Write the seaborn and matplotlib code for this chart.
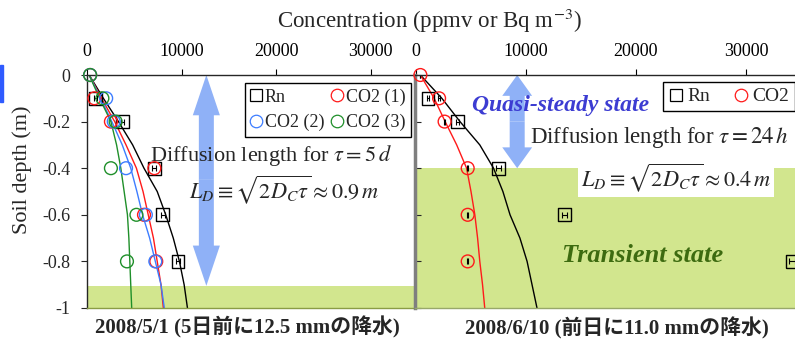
import matplotlib
matplotlib.use("Agg")
import matplotlib.pyplot as plt
import seaborn as sns
from matplotlib.lines import Line2D
from matplotlib.patches import FancyArrowPatch, Rectangle

# ---- values ----
fit_depth = [0, -0.1, -0.2, -0.3, -0.4, -0.5, -0.6, -0.7, -0.8, -0.9, -1.0]
pt_depth = [0, -0.1, -0.2, -0.4, -0.6, -0.8]
rn_depth = [-0.1, -0.2, -0.4, -0.6, -0.8]

# 2008/5/1
may_rn = [900, 3700, 7100, 8000, 9600]
may_rn_err = [150, 150, 200, 250, 200]
may_co2_1 = [300, 750, 2500, 7100, 6000, 7300]
may_co2_2 = [300, 2000, 2800, 4100, 6200, 7200]
may_co2_3 = [300, 1600, 3000, 2500, 5200, 4200]
may_rn_fit = [200, 1700, 3300, 4800, 6000, 7400, 8300, 9100, 9750, 10250, 10600]
may_co2_1_fit = [200, 1500, 2900, 4100, 5200, 5900, 6450, 7000, 7400, 7800, 8050]
may_co2_2_fit = [200, 1400, 2600, 3700, 4600, 5250, 5850, 6600, 7200, 7800, 8150]
may_co2_3_fit = [200, 1300, 2500, 3100, 3550, 3900, 4250, 4400, 4500, 4600, 4700]

# 2008/6/10
jun_rn = [1100, 3800, 7500, 13500, 34200]
jun_rn_err = [100, 150, 250, 250, 250]
jun_co2 = [400, 2100, 2600, 4700, 4700, 4700]
jun_co2_err = [0, 60, 60, 40, 40, 40]
jun_rn_fit = [400, 2350, 4000, 5800, 7050, 7900, 8550, 9450, 10100, 10550, 11000]
jun_co2_fit = [400, 1650, 2650, 3700, 4600, 5000, 5350, 5600, 5800, 6050, 6250]

x_ticks = [0, 10000, 20000, 30000]
y_ticks = [0, -0.2, -0.4, -0.6, -0.8, -1.0]
y_ticklabels = ["0", "-0.2", "-0.4", "-0.6", "-0.8", "-1"]

RED, BLUE, GREEN = "#ff1a1a", "#3d7dff", "#1f8f2a"
BAND = "#d2e68e"
ARROW = "#8fb1f7"

sns.set_theme(style="white")
plt.rcParams["font.family"] = ["Liberation Serif", "DejaVu Serif"]
plt.rcParams["mathtext.fontset"] = "stix"
plt.rcParams["axes.linewidth"] = 1.0

fig = plt.figure(figsize=(7.95, 3.4), dpi=100)
ax1 = fig.add_axes([87 / 795, 32 / 340, 329 / 795, 233 / 340])
ax2 = fig.add_axes([415 / 795, 32 / 340, 380 / 795, 233 / 340])


def style_axes(ax, xmin, xmax, show_ylabels):
    ax.set_xlim(xmin, xmax)
    ax.set_ylim(-1, 0)
    ax.xaxis.tick_top()
    ax.set_xticks(x_ticks)
    ax.set_xticklabels([str(t) for t in x_ticks], fontsize=13)
    ax.set_yticks(y_ticks)
    ax.tick_params(axis="x", direction="out", length=4, width=0.8, pad=7,
                   top=True, bottom=False, colors="black")
    if show_ylabels:
        ax.set_yticklabels(y_ticklabels, fontsize=13)
        ax.tick_params(axis="y", direction="out", length=4, width=0.8, pad=8,
                       left=True)
    else:
        ax.set_yticklabels([])
        ax.tick_params(axis="y", direction="in", length=4, width=0.8, left=True)
    ax.set_xlabel("")
    ax.set_ylabel("")
    ax.spines["right"].set_visible(False)


# ---------------- left panel: 2008/5/1 ----------------
ax1.axhspan(-1, -0.905, color=BAND, lw=0, zorder=0)
for vals, col in [(may_rn_fit, "black"), (may_co2_1_fit, RED),
                  (may_co2_2_fit, BLUE), (may_co2_3_fit, GREEN)]:
    sns.lineplot(x=vals, y=fit_depth, sort=False, estimator=None, color=col,
                 lw=1, ax=ax1)

ax1.errorbar(may_rn, rn_depth, xerr=may_rn_err, fmt="none", ecolor="black",
             elinewidth=0.8, capsize=2.5, capthick=0.8)
sns.scatterplot(x=may_rn, y=rn_depth, marker="s", s=85, facecolor="none",
                edgecolor="black", linewidth=1, ax=ax1, clip_on=False, zorder=4)
for vals, col in [(may_co2_1, RED), (may_co2_2, BLUE), (may_co2_3, GREEN)]:
    sns.scatterplot(x=vals, y=pt_depth, marker="o", s=85, facecolor="none",
                    edgecolor=col, linewidth=1, ax=ax1, clip_on=False, zorder=4)

style_axes(ax1, -30, 34785, True)
ax1.spines["bottom"].set_color("#8a9c45")

# double arrow (diffusion length)
for end in (0.0, -0.905):
    ax1.add_patch(FancyArrowPatch((12600, -0.45), (12600, end),
                                  arrowstyle="simple,head_length=29,head_width=19.5,tail_width=10.8",
                                  mutation_scale=1, lw=0, color=ARROW,
                                  shrinkA=0, shrinkB=0, zorder=2))

ax1.text(6600, -0.345, r"Diffusion length for $\tau = 5\,d$", fontsize=16,
         va="center", ha="left", zorder=5)
ax1.text(10800, -0.49, r"$L_D \equiv \sqrt{2D_C\tau} \approx 0.9\,m$",
         fontsize=16, va="center", ha="left", zorder=5)

h1 = [Line2D([], [], marker="s", ls="none", mfc="none", mec="black", ms=9, mew=0.9),
      Line2D([], [], marker="o", ls="none", mfc="none", mec=BLUE, ms=9, mew=0.9),
      Line2D([], [], marker="o", ls="none", mfc="none", mec=RED, ms=9, mew=0.9),
      Line2D([], [], marker="o", ls="none", mfc="none", mec=GREEN, ms=9, mew=0.9)]
leg1 = ax1.legend(h1, ["Rn", "CO2 (2)", "CO2 (1)", "CO2 (3)"], ncol=2,
                  loc="upper right", bbox_to_anchor=(0.985, 0.966),
                  fontsize=13, frameon=True, fancybox=False, framealpha=1,
                  edgecolor="black", handlelength=0.6, handletextpad=0.2,
                  columnspacing=0.4, labelspacing=0.45, borderpad=0.3,
                  borderaxespad=0)
leg1.get_frame().set_linewidth(1.0)
leg1.set_zorder(6)

# ---------------- right panel: 2008/6/10 ----------------
ax2.axhspan(-1, -0.4, color=BAND, lw=0, zorder=0)
for vals, col in [(jun_rn_fit, "black"), (jun_co2_fit, RED)]:
    sns.lineplot(x=vals, y=fit_depth, sort=False, estimator=None, color=col,
                 lw=1, ax=ax2)
ax2.errorbar(jun_rn, rn_depth, xerr=jun_rn_err, fmt="none", ecolor="black",
             elinewidth=0.8, capsize=2.5, capthick=0.8)
ax2.errorbar(jun_co2, pt_depth, xerr=jun_co2_err, fmt="none", ecolor="black",
             elinewidth=0.8, capsize=2.5, capthick=0.8)
sns.scatterplot(x=jun_rn, y=rn_depth, marker="s", s=85, facecolor="none",
                edgecolor="black", linewidth=1, ax=ax2, clip_on=False, zorder=4)
sns.scatterplot(x=jun_co2, y=pt_depth, marker="o", s=85, facecolor="none",
                edgecolor=RED, linewidth=1, ax=ax2, clip_on=False, zorder=4)

style_axes(ax2, -90, 34455, False)
ax2.spines["left"].set_color("#7f7f7f")
ax2.spines["left"].set_linewidth(2.5)
ax2.spines["bottom"].set_color("#98a86a")

for end in (0.0, -0.4):
    ax2.add_patch(FancyArrowPatch((9200, -0.2), (9200, end),
                                  arrowstyle="simple,head_length=15,head_width=21.5,tail_width=10.8",
                                  mutation_scale=1, lw=0, color=ARROW,
                                  shrinkA=0, shrinkB=0, zorder=2))

ax2.text(5100, -0.13, "Quasi-steady state", fontsize=17, fontweight="bold",
         fontstyle="italic", color="#3c3cd2", va="center", ha="left", zorder=5)
ax2.text(13300, -0.775, "Transient state", fontsize=19, fontweight="bold",
         fontstyle="italic", color="#3d6b10", va="center", ha="left", zorder=5)
ax2.text(10400, -0.27, r"Diffusion length for $\tau = 24\,h$", fontsize=16.5,
         va="center", ha="left", zorder=5)
ax2.text(15000, -0.44, r"$L_D \equiv \sqrt{2D_C\tau} \approx 0.4\,m$",
         fontsize=16, va="center", ha="left", zorder=5,
         bbox=dict(facecolor="white", edgecolor="none", pad=2))

h2 = [Line2D([], [], marker="s", ls="none", mfc="none", mec="black", ms=9, mew=0.9),
      Line2D([], [], marker="o", ls="none", mfc="none", mec=RED, ms=9, mew=0.9)]
leg2 = ax2.legend(h2, ["Rn", "CO2"], ncol=2, loc="upper right",
                  bbox_to_anchor=(1.0, 0.97), fontsize=14, frameon=True,
                  fancybox=False, framealpha=1, edgecolor="black",
                  handlelength=0.7, handletextpad=0.25, columnspacing=1.2,
                  borderpad=0.3, borderaxespad=0)
leg2.get_frame().set_linewidth(1.0)
leg2.set_zorder(6)

# ---------------- figure-level text ----------------
fig.text(429 / 795, 1 - 21 / 340, r"Concentration (ppmv or Bq m$^{-3}$)",
         fontsize=16.5, ha="center", va="center")
fig.text(22 / 795, 0.5, "Soil depth (m)", fontsize=16, rotation=90,
         ha="center", va="center")
cap_font = ["Liberation Serif", "Noto Sans CJK JP"]
fig.text(247 / 795, 1 - 327 / 340, "2008/5/1 (5日前に12.5 mmの降水)",
         fontsize=15, fontweight="bold", family=cap_font, ha="center", va="center")
fig.text(617 / 795, 1 - 328 / 340, "2008/6/10 (前日に11.0 mmの降水)",
         fontsize=15, fontweight="bold", family=cap_font, ha="center", va="center")
fig.patches.append(Rectangle((0, 1 - 102 / 340), 3 / 795, 37 / 340,
                             transform=fig.transFigure, color="#2f5bff"))

plt.savefig("out.png", dpi=100)
plt.close()
